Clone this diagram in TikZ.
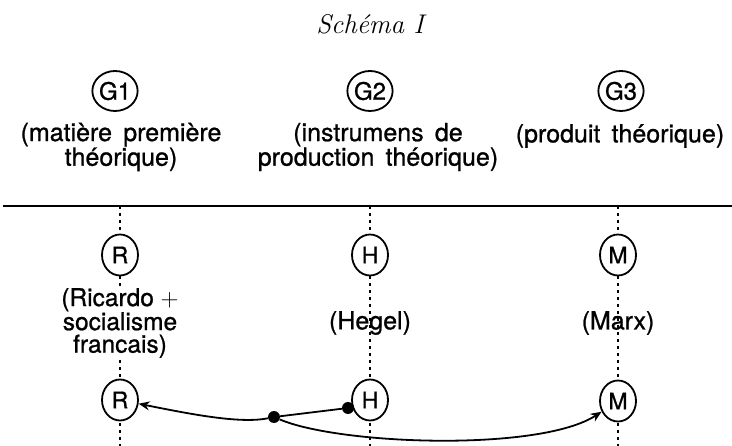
\documentclass[tikz,border=0pt]{standalone}
\usepackage{fontspec}
\newfontfamily\hv{TeX Gyre Heros}[FakeBold=0.9]
\usetikzlibrary{arrows.meta,shapes.geometric}
\begin{document}
\begin{tikzpicture}[x=1pt,y=-1pt,
  lbl/.style={font=\hv\fontsize{25}{22.5}\selectfont, align=center, inner sep=1pt},
  gcirc/.style={draw, ellipse, line width=1.8pt, fill=white, minimum width=35pt, minimum height=40pt, inner sep=0pt, font=\hv\fontsize{24}{24}\selectfont},
  pcirc/.style={draw, ellipse, line width=1.8pt, fill=white, minimum width=36pt, minimum height=41pt, inner sep=0pt, font=\hv\fontsize{23}{23}\selectfont},
  dotv/.style={line width=1.6pt, dash pattern=on 3pt off 4pt},
  blob/.style={circle, fill=black, minimum size=12pt, inner sep=0pt},
  conn/.style={line width=1.8pt},
  tip/.style={-{Stealth[length=11pt,width=9pt]}}]
\useasboundingbox (0,0) rectangle (732,446);
% title
\node[font=\itshape\fontsize{27}{27}\selectfont] (title) at (370,24) {Schéma I};
% top row
\node[gcirc] (g1) at (115,91) {G1};
\node[gcirc] (g2) at (370,91) {G2};
\node[gcirc] (g3) at (621,91) {G3};
\node[lbl] (t1) at (121,147) {(matière\hspace{0.45em}première\\théorique)};
\node[lbl] (t2) at (378,147) {(instrumens\hspace{0.45em}de\\production\hspace{0.45em}théorique)};
\node[lbl] (t3) at (620,136) {(produit\hspace{0.45em}théorique)};
% horizontal rule
\coordinate (hl) at (3,206);
\coordinate (hr) at (732,206);
\draw[line width=2pt] (hl) -- (hr);
% vertical dotted lines
\coordinate (c1t) at (120,206); \coordinate (c1b) at (120,446);
\coordinate (c2t) at (370,206); \coordinate (c2b) at (370,446);
\coordinate (c3t) at (618,206); \coordinate (c3b) at (618,446);
\draw[dotv] (c1t) -- (c1b);
\draw[dotv] (c2t) -- (c2b);
\draw[dotv] (c3t) -- (c3b);
% middle row
\node[pcirc] (r1) at (120,255) {R};
\node[pcirc] (h1) at (370,255) {H};
\node[pcirc] (m1) at (618,255) {M};
\node[lbl, fill=white, inner sep=0pt, font=\hv\fontsize{24.5}{22.5}\selectfont] (ric) at (120,323) {(Ricardo $+$\\socialisme\\francais)};
\node[lbl] (heg) at (370,323) {(Hegel)};
\node[lbl] (marx) at (618,323) {(Marx)};
% bottom row
\node[pcirc] (r2) at (120,400) {R};
\node[pcirc] (h2) at (370,400) {H};
\node[pcirc] (m2) at (618,401) {M};
\node[blob] (d1) at (274,417) {};
\node[blob] (d2) at (348,408) {};
\draw[conn] (d1) -- (d2);
\draw[conn, tip] (d1) .. controls (240,424) and (190,414) .. (r2);
\draw[conn, tip] (d1) .. controls (340,445) and (540,452) .. (m2);
\end{tikzpicture}
\end{document}
